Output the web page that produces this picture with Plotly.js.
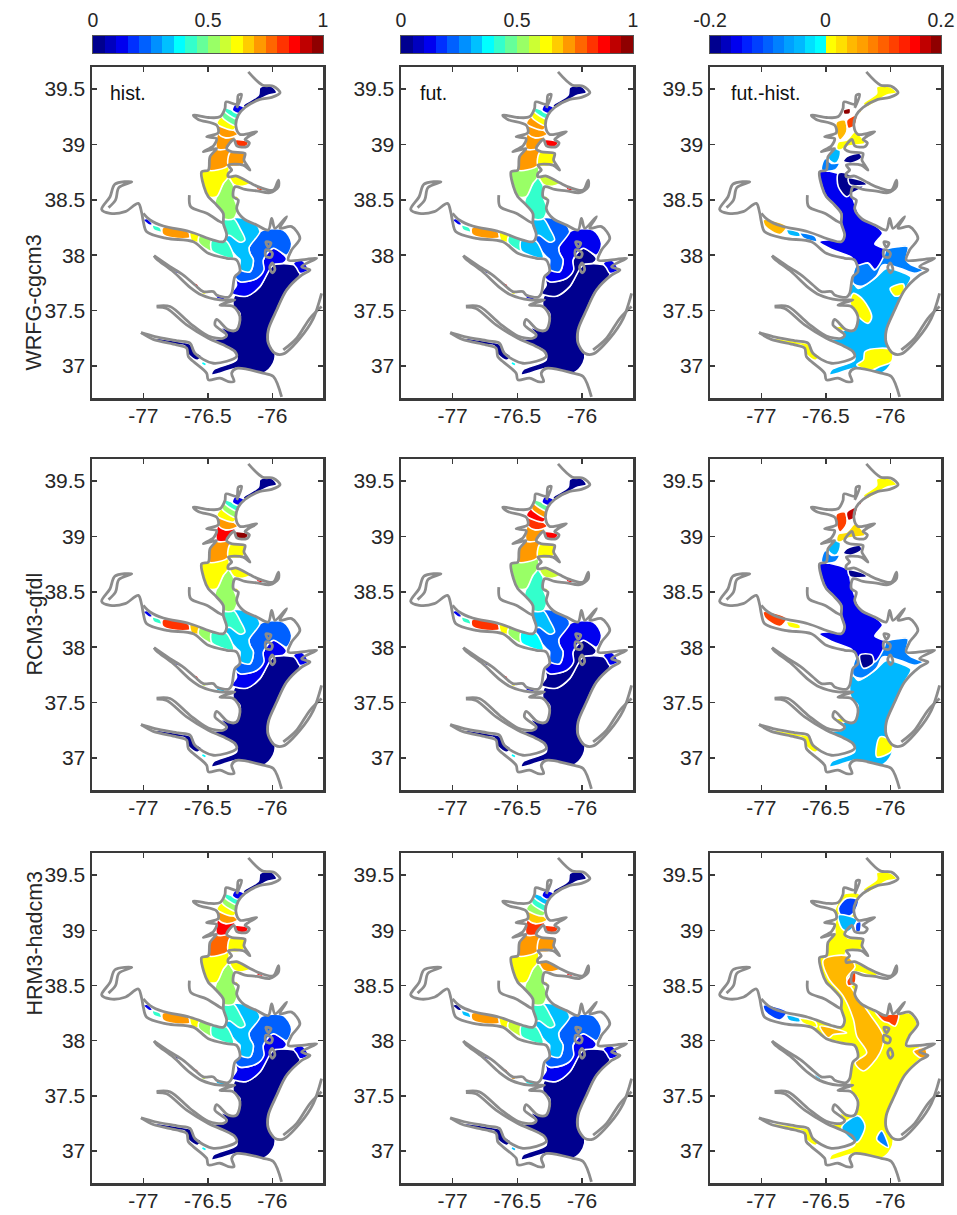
<!DOCTYPE html>
<html><head><meta charset="utf-8">
<script src="https://cdn.plot.ly/plotly-3.0.1.min.js"></script>
<style>html,body{margin:0;padding:0;background:#fff}</style></head>
<body><div id="chart" style="width:957px;height:1215px"></div>
<script>
// ---------- tick labels and titles ----------
const lonTicks=[-77,-76.5,-76], lonTickText=['-77','-76.5','-76'];
const latTicks=[37,37.5,38,38.5,39,39.5], latTickText=['37','37.5','38','38.5','39','39.5'];
const rowNames=['WRFG-cgcm3','RCM3-gfdl','HRM3-hadcm3'];
const colNames=['hist.','fut.','fut.-hist.'];
// ---------- colour levels ----------
const levels01=['#00008f','#0000bf','#0000ef','#0030ff','#0060ff','#0090ff','#00c0ff','#00ffff','#33ffcc','#66ff99','#99ff66','#ccff33','#ffff00','#ffcc00','#ff9900','#ff6600','#ff3300','#ff0000','#bf0000','#8f0000'];
const levelsDiff=['#00008f','#0000bf','#0000ef','#0020ff','#0040ff','#0060ff','#0080ff','#00a0ff','#00b8ff','#00e0ff','#00ffff','#ffff00','#ffdf00','#ffb800','#ff9f00','#ff8000','#ff6000','#ff4000','#ff2000','#ff0000','#c00000','#8f0000'];
// ---------- shoreline ----------
const shoreEast=[[-76.186,39.656],[-76.075,39.536],[-75.992,39.527],[-75.94,39.467],[-76.005,39.425],[-76.096,39.407],[-76.212,39.334],[-76.264,39.265],[-76.282,39.166],[-76.25,39.091],[-76.121,39.115],[-76.186,39.07],[-76.212,39.045],[-76.178,39.015],[-76.199,38.98],[-76.276,38.988],[-76.297,39.045],[-76.354,38.964],[-76.315,38.934],[-76.212,38.919],[-76.22,38.859],[-76.173,38.769],[-76.225,38.814],[-76.341,38.814],[-76.315,38.769],[-76.341,38.739],[-76.341,38.709],[-76.276,38.715],[-76.173,38.654],[-76.096,38.612],[-75.992,38.588],[-75.953,38.679],[-75.953,38.618],[-76.018,38.564],[-76.121,38.582],[-76.212,38.594],[-76.289,38.618],[-76.302,38.528],[-76.264,38.498],[-76.276,38.42],[-76.225,38.333],[-76.121,38.273],[-76.031,38.228],[-76.005,38.333],[-75.979,38.243],[-75.889,38.348],[-75.94,38.243],[-75.85,38.258],[-75.786,38.152],[-75.85,38.047],[-75.876,37.957],[-75.773,37.957],[-75.656,37.972],[-75.773,37.897],[-75.708,37.866],[-75.773,37.82],[-75.889,37.686],[-75.966,37.505],[-76.031,37.325],[-76.031,37.205],[-75.979,37.114],[-75.915,37.108],[-75.786,37.25],[-75.682,37.43],[-75.618,37.656]];
const shoreBarrier=[[-75.618,37.536],[-75.708,37.43],[-75.811,37.25],[-75.915,37.144]];
const shoreSouth=[[-75.928,36.72],[-75.992,36.904],[-76.07,36.934],[-76.277,36.977],[-76.315,36.934],[-76.297,36.859],[-76.341,36.859],[-76.406,36.889],[-76.496,36.874],[-76.509,36.934],[-76.612,37.039],[-76.651,37.084],[-76.664,37.16],[-76.742,37.19],[-76.923,37.24],[-77.018,37.3]];
const shoreJamesYork=[[-77.018,37.3],[-76.91,37.265],[-76.729,37.226],[-76.638,37.205],[-76.6,37.114],[-76.457,37.024],[-76.277,37.084],[-76.29,37.13],[-76.38,37.19],[-76.496,37.25],[-76.664,37.37],[-76.819,37.518],[-76.897,37.53]];
const shoreYorkRapp=[[-76.897,37.54],[-76.793,37.536],[-76.638,37.385],[-76.496,37.27],[-76.38,37.25],[-76.354,37.28],[-76.445,37.37],[-76.432,37.42],[-76.341,37.325],[-76.277,37.325],[-76.251,37.445],[-76.302,37.536],[-76.406,37.55],[-76.29,37.596],[-76.406,37.596],[-76.548,37.64],[-76.638,37.71],[-76.767,37.85],[-76.897,37.966],[-76.917,37.996]];
const shoreRappPotomac=[[-76.917,37.996],[-76.793,37.897],[-76.69,37.821],[-76.6,37.731],[-76.535,37.671],[-76.457,37.671],[-76.432,37.641],[-76.341,37.62],[-76.315,37.656],[-76.29,37.806],[-76.251,37.851],[-76.277,37.957],[-76.354,37.972],[-76.496,38.017],[-76.612,38.122],[-76.819,38.152],[-76.974,38.212],[-77.0,38.303],[-77.013,38.384],[-77.039,38.468],[-77.142,38.393],[-77.258,38.378],[-77.323,38.414],[-77.258,38.528],[-77.22,38.642],[-77.09,38.663],[-77.19,38.61],[-77.215,38.5],[-77.27,38.43]];
const shoreWest=[[-77.0,38.378],[-76.948,38.318],[-76.845,38.264],[-76.638,38.212],[-76.457,38.137],[-76.38,38.122],[-76.354,38.182],[-76.38,38.288],[-76.38,38.377],[-76.444,38.468],[-76.496,38.528],[-76.53,38.62],[-76.548,38.754],[-76.496,38.769],[-76.483,38.89],[-76.432,38.964],[-76.535,38.934],[-76.455,38.99],[-76.432,39.054],[-76.509,39.07],[-76.419,39.106],[-76.432,39.175],[-76.574,39.226],[-76.612,39.265],[-76.496,39.244],[-76.406,39.25],[-76.367,39.325],[-76.359,39.385],[-76.276,39.364],[-76.264,39.446],[-76.238,39.452],[-76.276,39.33]];
const shorePatuxent=[[-76.643,38.543],[-76.633,38.438],[-76.509,38.378],[-76.406,38.303],[-76.38,38.288]];
const islandSmith=[[-76.05,38.05],[-76.0,38.02],[-76.01,37.98],[-76.05,37.99],[-76.05,38.05]];
const islandTangier=[[-76.0,37.93],[-75.98,37.87],[-76.0,37.84],[-76.02,37.89],[-76.0,37.93]];
const islandHoopers=[[-76.05,38.12],[-76.01,38.11],[-76.03,38.07],[-76.05,38.12]];
// ---------- zones for the hist. and fut. columns ----------
const lowerBay=[[-76.29,37.64],[-76.199,37.63],[-76.096,37.716],[-75.992,37.912],[-75.786,37.89],[-75.786,37.82],[-75.889,37.686],[-75.966,37.505],[-76.018,37.325],[-76.018,37.205],[-75.979,37.114],[-75.992,37.024],[-76.07,36.934],[-76.264,36.98],[-76.406,36.934],[-76.47,36.92],[-76.457,36.964],[-76.277,37.054],[-76.29,37.13],[-76.38,37.19],[-76.496,37.24],[-76.38,37.25],[-76.354,37.28],[-76.406,37.355],[-76.341,37.325],[-76.277,37.325],[-76.251,37.475],[-76.302,37.536]];
const blueBand=[[-76.29,37.806],[-76.25,37.76],[-76.121,37.79],[-76.07,37.866],[-76.07,37.957],[-75.992,38.062],[-75.89,37.97],[-75.915,37.927],[-75.992,37.912],[-76.096,37.716],[-76.199,37.63],[-76.29,37.64],[-76.315,37.656],[-76.277,37.73]];
const eastPocket=[[-75.837,37.927],[-75.773,37.957],[-75.721,37.866],[-75.786,37.836],[-75.811,37.882]];
const azureBand=[[-76.096,38.212],[-75.915,38.228],[-75.85,38.107],[-75.889,38.0],[-75.992,38.062],[-76.07,37.957],[-76.065,37.866],[-76.121,37.79],[-76.25,37.76],[-76.29,37.806],[-76.25,37.87],[-76.173,37.85],[-76.147,37.957],[-76.173,38.017],[-76.18,38.07]];
const lightBand=[[-76.31,38.33],[-76.225,38.333],[-76.121,38.273],[-76.096,38.212],[-76.18,38.07],[-76.173,38.017],[-76.147,37.957],[-76.173,37.85],[-76.25,37.87],[-76.251,37.96],[-76.277,37.987],[-76.35,38.1],[-76.36,38.2]];
const turqBand=[[-76.38,38.33],[-76.30,38.33],[-76.251,38.243],[-76.212,38.137],[-76.251,38.117],[-76.328,38.177],[-76.354,38.182],[-76.38,38.288]];
const greenBand=[[-76.432,38.528],[-76.38,38.648],[-76.345,38.70],[-76.30,38.63],[-76.30,38.53],[-76.27,38.42],[-76.30,38.33],[-76.38,38.33],[-76.38,38.377],[-76.444,38.468]];
const yellowBand=[[-76.548,38.76],[-76.496,38.77],[-76.34,38.80],[-76.345,38.70],[-76.38,38.648],[-76.432,38.528],[-76.496,38.53],[-76.53,38.62]];
const easternBay=[[-76.33,38.709],[-76.25,38.715],[-76.173,38.648],[-76.25,38.622],[-76.3,38.64]];
const tinyRed=[[-76.121,38.612],[-76.07,38.594],[-76.08,38.582],[-76.121,38.594]];
const smallBay=[[-76.29,38.543],[-76.26,38.52],[-76.28,38.5]];
const upperU7=[[-76.43,38.96],[-76.345,38.965],[-76.325,38.93],[-76.34,38.81],[-76.496,38.77],[-76.483,38.89]];
const chester=[[-76.325,38.93],[-76.215,38.92],[-76.225,38.82],[-76.34,38.81]];
const upperU6=[[-76.42,39.1],[-76.36,39.06],[-76.27,39.09],[-76.30,39.045],[-76.345,38.965],[-76.43,38.96]];
const upperU5=[[-76.43,39.19],[-76.30,39.13],[-76.27,39.09],[-76.36,39.06],[-76.42,39.1]];
const sassafras=[[-76.29,39.04],[-76.186,39.024],[-76.199,38.985],[-76.27,38.985]];
const upperU4=[[-76.39,39.25],[-76.28,39.17],[-76.30,39.13],[-76.43,39.19]];
const upperU3=[[-76.37,39.30],[-76.27,39.23],[-76.28,39.17],[-76.39,39.25]];
const upperU2=[[-76.36,39.33],[-76.31,39.31],[-76.26,39.28],[-76.27,39.23],[-76.37,39.30]];
const upperU1=[[-76.29,39.36],[-76.22,39.335],[-76.26,39.28],[-76.31,39.31]];
const headFlats=[[-76.225,39.355],[-76.108,39.446],[-76.096,39.515],[-76.005,39.527],[-75.966,39.467],[-76.031,39.446],[-76.096,39.407],[-76.212,39.334]];
const potP1=[[-77.0,38.32],[-76.95,38.27],[-76.93,38.28],[-76.97,38.33]];
const potP2=[[-76.93,38.27],[-76.87,38.25],[-76.86,38.21],[-76.92,38.23]];
const potP3=[[-76.85,38.25],[-76.65,38.21],[-76.638,38.16],[-76.767,38.155],[-76.85,38.19]];
const potP4=[[-76.638,38.21],[-76.56,38.182],[-76.555,38.12],[-76.625,38.13]];
const potP5=[[-76.56,38.18],[-76.47,38.135],[-76.47,38.04],[-76.52,38.062],[-76.574,38.122]];
const potP6=[[-76.47,38.135],[-76.38,38.125],[-76.354,38.125],[-76.3,37.975],[-76.406,38.0],[-76.47,38.04]];
const rap1=[[-76.76,37.87],[-76.73,37.86],[-76.72,37.83],[-76.75,37.84]];
const rap2=[[-76.61,37.75],[-76.58,37.74],[-76.57,37.71],[-76.6,37.72]];
const rap3=[[-76.54,37.67],[-76.51,37.66],[-76.52,37.645],[-76.55,37.655]];
const rap4=[[-76.44,37.63],[-76.37,37.62],[-76.37,37.6],[-76.43,37.61]];
const jamesUp=[[-76.907,37.245],[-76.70,37.215],[-76.64,37.2],[-76.60,37.13],[-76.55,37.09],[-76.58,37.05],[-76.65,37.1],[-76.68,37.18],[-76.75,37.19],[-76.9,37.232]];
const jamesSpot=[[-76.54,37.04],[-76.51,37.02],[-76.52,37.0],[-76.55,37.02]];
const zonesA=[lowerBay,blueBand,eastPocket,azureBand,lightBand,turqBand,greenBand,yellowBand,easternBay,tinyRed,smallBay,upperU7,chester,upperU6,upperU5,sassafras,upperU4,upperU3,upperU2,upperU1,headFlats,potP1,potP2,potP3,potP4,potP5,potP6,rap1,rap2,rap3,rap4,jamesUp,jamesSpot];
const histWRFG=[0,.1,.1,.2,.3,.42,.52,.62,.62,.82,.62,.72,.72,.72,.72,.82,.62,.48,.4,.1,0,.1,.4,.72,.62,.52,.42,.1,.85,.62,.1,0,.35];
const futWRFG=[0,0,.1,.1,.2,.3,.42,.52,.55,.85,.55,.72,.62,.72,.72,.85,.72,.62,.42,.1,0,.1,.4,.72,.62,.42,.3,.1,.85,.62,.1,0,.35];
const histRCM3=[0,.1,.1,.2,.3,.42,.52,.62,.62,.85,.62,.72,.62,.88,.72,.95,.62,.5,.42,.1,0,.1,.4,.82,.68,.52,.42,.05,.88,.55,.3,0,.35];
const futRCM3=[0,0,.1,.1,.2,.3,.42,.52,.55,.85,.55,.72,.62,.72,.82,.85,.88,.72,.48,.1,0,.1,.4,.82,.62,.5,.35,.05,.85,.62,.1,0,.35];
const histHRM3=[0,.1,.1,.2,.3,.42,.52,.62,.62,.85,.62,.75,.62,.88,.72,.88,.62,.5,.42,.1,0,.1,.4,.72,.62,.52,.42,.05,.88,.55,.3,0,.35];
const futHRM3=[0,.1,.1,.2,.3,.42,.52,.62,.72,.85,.62,.72,.72,.82,.68,.82,.52,.42,.3,.1,0,0,.3,.72,.62,.55,.42,.05,.82,.7,.35,0,.3];
// ---------- zones for the fut.-hist. column ----------
const allBay=[[-76.24,39.33],[-76.28,39.17],[-76.27,39.08],[-76.34,38.97],[-76.33,38.93],[-76.22,38.92],[-76.22,38.83],[-76.34,38.81],[-76.345,38.71],[-76.28,38.71],[-76.17,38.65],[-76.1,38.6],[-76.12,38.585],[-76.29,38.62],[-76.30,38.53],[-76.26,38.5],[-76.27,38.42],[-76.225,38.33],[-76.12,38.27],[-76.03,38.22],[-75.98,38.24],[-75.94,38.24],[-75.85,38.25],[-75.79,38.15],[-75.85,38.05],[-75.88,37.95],[-75.77,37.95],[-75.78,37.9],[-75.71,37.87],[-75.78,37.82],[-75.889,37.686],[-75.966,37.505],[-76.018,37.325],[-76.018,37.205],[-75.979,37.114],[-75.992,37.024],[-76.07,36.934],[-76.264,36.98],[-76.406,36.934],[-76.47,36.92],[-76.457,36.964],[-76.277,37.054],[-76.29,37.13],[-76.38,37.19],[-76.496,37.24],[-76.38,37.25],[-76.354,37.28],[-76.406,37.355],[-76.341,37.325],[-76.277,37.325],[-76.251,37.475],[-76.302,37.536],[-76.315,37.656],[-76.29,37.806],[-76.251,37.851],[-76.277,37.957],[-76.354,37.975],[-76.496,38.02],[-76.612,38.125],[-76.62,38.2],[-76.457,38.137],[-76.38,38.122],[-76.354,38.182],[-76.38,38.288],[-76.38,38.377],[-76.444,38.468],[-76.496,38.528],[-76.53,38.62],[-76.548,38.754],[-76.496,38.769],[-76.483,38.89],[-76.432,38.964],[-76.432,39.054],[-76.419,39.106],[-76.432,39.175],[-76.406,39.25],[-76.367,39.325],[-76.3,39.34]];
const diffLower=[[-76.29,37.75],[-76.25,37.70],[-76.12,37.79],[-76.03,37.88],[-75.92,37.85],[-75.84,37.80],[-75.889,37.686],[-75.966,37.505],[-76.018,37.325],[-76.018,37.205],[-75.979,37.114],[-75.992,37.024],[-76.07,36.934],[-76.264,36.98],[-76.406,36.934],[-76.47,36.92],[-76.457,36.964],[-76.277,37.054],[-76.29,37.13],[-76.38,37.19],[-76.496,37.24],[-76.38,37.25],[-76.354,37.28],[-76.406,37.355],[-76.341,37.325],[-76.277,37.325],[-76.251,37.475],[-76.302,37.536],[-76.315,37.656]];
const diffAzure=[[-76.261,37.912],[-76.29,37.75],[-76.225,37.72],[-76.109,37.806],[-76.057,37.912],[-75.928,37.882],[-75.811,37.836],[-75.747,37.866],[-75.837,37.912],[-75.876,37.957],[-75.863,38.077],[-75.94,38.077],[-76.044,38.047],[-76.121,37.866],[-76.173,37.927]];
const diffBlue=[[-76.548,38.76],[-76.406,38.74],[-76.33,38.70],[-76.30,38.55],[-76.23,38.35],[-76.12,38.27],[-76.06,38.20],[-76.12,38.10],[-76.04,38.05],[-76.12,37.87],[-76.17,37.93],[-76.26,37.91],[-76.30,37.98],[-76.45,38.05],[-76.55,38.12],[-76.46,38.14],[-76.38,38.13],[-76.354,38.18],[-76.38,38.29],[-76.38,38.38],[-76.444,38.468],[-76.496,38.53],[-76.53,38.62]];
const diffNavyMid=[[-76.403,38.74],[-76.338,38.74],[-76.235,38.664],[-76.21,38.618],[-76.3,38.558],[-76.338,38.528],[-76.403,38.618]];
const diffNavyChop=[[-76.325,38.697],[-76.209,38.667],[-76.183,38.637],[-76.312,38.637]];
const diffNavyUp=[[-76.338,38.89],[-76.235,38.919],[-76.222,38.88],[-76.3,38.832],[-76.364,38.848]];
const diffRing=[[-76.235,37.93],[-76.144,37.93],[-76.131,37.855],[-76.209,37.81]];
const diffUpLight=[[-76.454,38.964],[-76.39,38.949],[-76.395,38.874],[-76.428,38.829],[-76.48,38.87]];
const diffUpAzure=[[-76.506,38.874],[-76.454,38.829],[-76.395,38.829],[-76.428,38.769],[-76.532,38.769]];
const diffUpYellow=[[-76.403,39.024],[-76.338,39.04],[-76.273,39.115],[-76.196,39.01],[-76.273,38.994],[-76.338,38.98],[-76.39,38.949],[-76.416,38.964]];
const diffOrange=[[-76.416,39.205],[-76.351,39.22],[-76.338,39.115],[-76.39,39.04],[-76.416,39.1]];
const diffRedOrange=[[-76.338,39.22],[-76.26,39.265],[-76.273,39.175],[-76.325,39.145]];
const diffDarkRed=[[-76.364,39.31],[-76.312,39.325],[-76.312,39.28],[-76.359,39.274]];
const diffSmallOrange=[[-76.248,39.31],[-76.209,39.346],[-76.235,39.28]];
const diffHead=[[-76.106,39.521],[-76.002,39.521],[-75.95,39.467],[-76.028,39.446],[-76.183,39.34],[-76.209,39.37],[-76.106,39.461]];
const blobWest=[[-76.286,37.656],[-76.209,37.596],[-76.144,37.445],[-76.17,37.385],[-76.235,37.43],[-76.312,37.566]];
const blobEast=[[-76.002,37.70],[-75.899,37.74],[-75.899,37.656],[-75.963,37.63]];
const blobSouth=[[-76.196,37.13],[-76.08,37.16],[-75.989,37.144],[-75.989,37.04],[-76.08,36.994],[-76.157,36.958],[-76.26,37.01],[-76.209,37.054]];
const blobNeck=[[-76.416,37.355],[-76.351,37.355],[-76.351,37.325],[-76.416,37.325]];
const blobSE=[[-76.08,37.19],[-75.99,37.15],[-75.99,37.06],[-76.105,37.01]];
const pbUp=[[-76.984,38.321],[-76.803,38.261],[-76.855,38.186],[-76.971,38.261]];
const pbMid=[[-76.803,38.23],[-76.70,38.2],[-76.70,38.17],[-76.79,38.186]];
const pbLow=[[-76.70,38.2],[-76.583,38.17],[-76.57,38.125],[-76.674,38.155]];
const p9Orange=[[-76.519,38.732],[-76.338,38.768],[-76.273,38.672],[-76.338,38.567],[-76.299,38.476],[-76.157,38.236],[-76.054,38.04],[-76.08,37.89],[-76.209,37.725],[-76.273,37.8],[-76.183,37.89],[-76.26,38.04],[-76.286,38.191],[-76.364,38.401],[-76.48,38.567]];
const p9PotOrange=[[-76.545,38.13],[-76.338,38.07],[-76.441,38.055],[-76.48,38.025]];
const p9Red=[[-76.338,38.537],[-76.273,38.627],[-76.273,38.522],[-76.325,38.497]];
const p9LightSW=[[-76.364,37.243],[-76.248,37.318],[-76.196,37.228],[-76.26,37.078],[-76.377,37.198]];
const p9LightS=[[-76.067,37.183],[-76.015,37.033],[-76.106,37.108]];
const p9UpBlue=[[-76.403,39.198],[-76.338,39.289],[-76.248,39.274],[-76.286,39.153],[-76.364,39.108]];
const p9UpLight=[[-76.403,39.138],[-76.26,39.093],[-76.325,38.988],[-76.377,39.018]];
const p9UpSmall=[[-76.266,39.063],[-76.23,39.078],[-76.235,38.988],[-76.266,38.988]];
const p9RedEast=[[-76.118,38.266],[-76.054,38.236],[-76.028,38.236],[-75.937,38.236],[-75.963,38.131],[-76.015,38.161],[-76.054,38.176]];
const p9OrangeEast=[[-75.821,37.905],[-75.731,37.935],[-75.718,37.845],[-75.77,37.845]];
const p9RappLight=[[-76.69,37.845],[-76.56,37.65],[-76.53,37.645],[-76.68,37.8]];
const zonesB=[allBay,diffLower,diffAzure,diffBlue,diffNavyMid,diffNavyChop,diffNavyUp,diffRing,diffUpLight,diffUpAzure,diffUpYellow,diffOrange,diffRedOrange,diffDarkRed,diffSmallOrange,diffHead,blobWest,blobEast,blobSouth,blobNeck,blobSE,pbUp,pbMid,pbLow,jamesUp,p9Orange,p9PotOrange,p9Red,p9LightSW,p9LightS,p9UpBlue,p9UpLight,p9UpSmall,p9RedEast,p9OrangeEast,p9RappLight];
const diffWRFG=[null,-.05,-.09,-.155,-.2,-.2,-.2,null,-.05,-.09,.01,.05,.12,.2,.05,.01,.01,.01,.01,.01,null,.05,-.05,-.09,.01,null,null,null,null,null,null,null,null,null,null,null];
const diffRCM3=[null,-.05,-.09,-.155,null,-.2,-.2,-.2,-.05,-.09,.03,.11,.17,null,.17,.01,null,null,null,.01,.01,.11,.01,null,.01,null,null,null,null,null,null,null,null,null,null,null];
const diffHRM3=[.01,null,null,null,null,null,null,null,null,null,null,null,null,null,null,.01,null,null,null,null,null,-.11,-.05,.01,.01,.05,.05,.12,-.05,-.09,-.11,-.05,-.11,.12,.07,-.05];
const panelValues=[histWRFG,futWRFG,diffWRFG,histRCM3,futRCM3,diffRCM3,histHRM3,futHRM3,diffHRM3];
const shores=[shoreEast,shoreBarrier,shoreSouth,shoreJamesYork,shoreYorkRapp,shoreRappPotomac,shoreWest,shorePatuxent,islandSmith,islandTangier,islandHoopers];

// ---------- layout geometry ----------
const W=957,H=1215;
const colPx=[[92,323],[401,633],[710,941]], rowPx=[[67,398],[459,790],[853,1183]];
const cbPx=[[93,323],[401,633],[710,941]], cbY=[36,53];
const labelPx=[108,418,729], labelY=93;
const fx=p=>p/W, fy=p=>1-p/H;
function levelColor(v,isDiff){
  if(isDiff){const i=v<0?Math.max(0,Math.floor((v+0.2)/0.2*11)):11+Math.min(10,Math.floor(v/0.2*11));return levelsDiff[i];}
  return levels01[Math.min(19,Math.floor(v*20))];
}
const traces=[],layout={width:W,height:H,margin:{l:0,r:0,t:0,b:0},paper_bgcolor:'#fff',plot_bgcolor:'#fff',showlegend:false,
  font:{family:'"Liberation Sans",Arial,sans-serif',size:21,color:'#262626'},annotations:[]};
panelValues.forEach((vals,n)=>{
  const id=n+1, r=Math.floor(n/3), c=n%3, isDiff=c===2;
  const xa=id===1?'x':'x'+id, ya=id===1?'y':'y'+id;
  const axBase={showgrid:false,zeroline:false,showline:true,linecolor:'#3a3a3a',linewidth:2.5,mirror:'ticks',ticks:'inside',ticklen:5,tickwidth:1.5,tickcolor:'#3a3a3a',tickfont:{size:21,color:'#262626'}};
  layout['xaxis'+(id===1?'':id)]=Object.assign({},axBase,{domain:[fx(colPx[c][0]),fx(colPx[c][1])],range:[-77.398,-75.607],tickvals:lonTicks,ticktext:lonTickText,anchor:ya,ticklabelstandoff:-3});
  layout['yaxis'+(id===1?'':id)]=Object.assign({},axBase,{domain:[fy(rowPx[r][1]),fy(rowPx[r][0])],range:[36.71,39.70],tickvals:latTicks,ticktext:latTickText,anchor:xa});
  const zones=isDiff?zonesB:zonesA;
  zones.forEach((z,i)=>{
    const v=vals[i]; if(v===null||v===undefined) return;
    const closed=z.concat([z[0]]);
    traces.push({type:'scatter',mode:'lines',x:closed.map(p=>p[0]),y:closed.map(p=>p[1]),xaxis:xa,yaxis:ya,fill:'toself',fillcolor:levelColor(v,isDiff),line:{color:'#ffffff',width:1.6,shape:'spline',smoothing:0.9},hoverinfo:'skip'});
  });
  shores.forEach(s=>traces.push({type:'scatter',mode:'lines',x:s.map(p=>p[0]),y:s.map(p=>p[1]),xaxis:xa,yaxis:ya,line:{color:'#8c8c8c',width:2.8,shape:'spline',smoothing:0.9},hoverinfo:'skip'}));
  if(r===0) layout.annotations.push({xref:'paper',yref:'paper',x:fx(labelPx[c]),y:fy(labelY),xanchor:'left',yanchor:'middle',text:colNames[c],showarrow:false,font:{size:19.5,color:'#111'}});
  if(c===0) layout.annotations.push({xref:'paper',yref:'paper',x:fx(20),y:fy((rowPx[r][0]+rowPx[r][1])/2),text:rowNames[r],textangle:-90,showarrow:false,font:{size:21.5,color:'#262626'}});
});
// colour bars
[0,1,2].forEach(c=>{
  const id=10+c, xa='x'+id, ya='y'+id, isDiff=c===2;
  const colors=isDiff?levelsDiff:levels01, n=colors.length;
  const scale=[]; colors.forEach((col,i)=>{scale.push([i/n,col]);scale.push([(i+1)/n,col]);});
  traces.push({type:'heatmap',z:[colors.map((col,i)=>i+0.5)],x0:0.5,dx:1,y:[0],xaxis:xa,yaxis:ya,zmin:0,zmax:n,colorscale:scale,showscale:false,hoverinfo:'skip'});
  layout['xaxis'+id]={domain:[fx(cbPx[c][0]),fx(cbPx[c][1])],range:[0,n],side:'top',anchor:ya,tickvals:[0,n/2,n],ticktext:isDiff?['-0.2','0','0.2']:['0','0.5','1'],ticks:'',showgrid:false,zeroline:false,showline:true,mirror:true,linecolor:'#555',linewidth:1,tickfont:{size:19.5,color:'#262626'}};
  layout['yaxis'+id]={domain:[fy(cbY[1]),fy(cbY[0])],anchor:xa,showticklabels:false,ticks:'',showgrid:false,zeroline:false,showline:true,mirror:true,linecolor:'#555',linewidth:1};
});
Plotly.newPlot('chart',traces,layout,{staticPlot:true,displayModeBar:false});
</script></body></html>
